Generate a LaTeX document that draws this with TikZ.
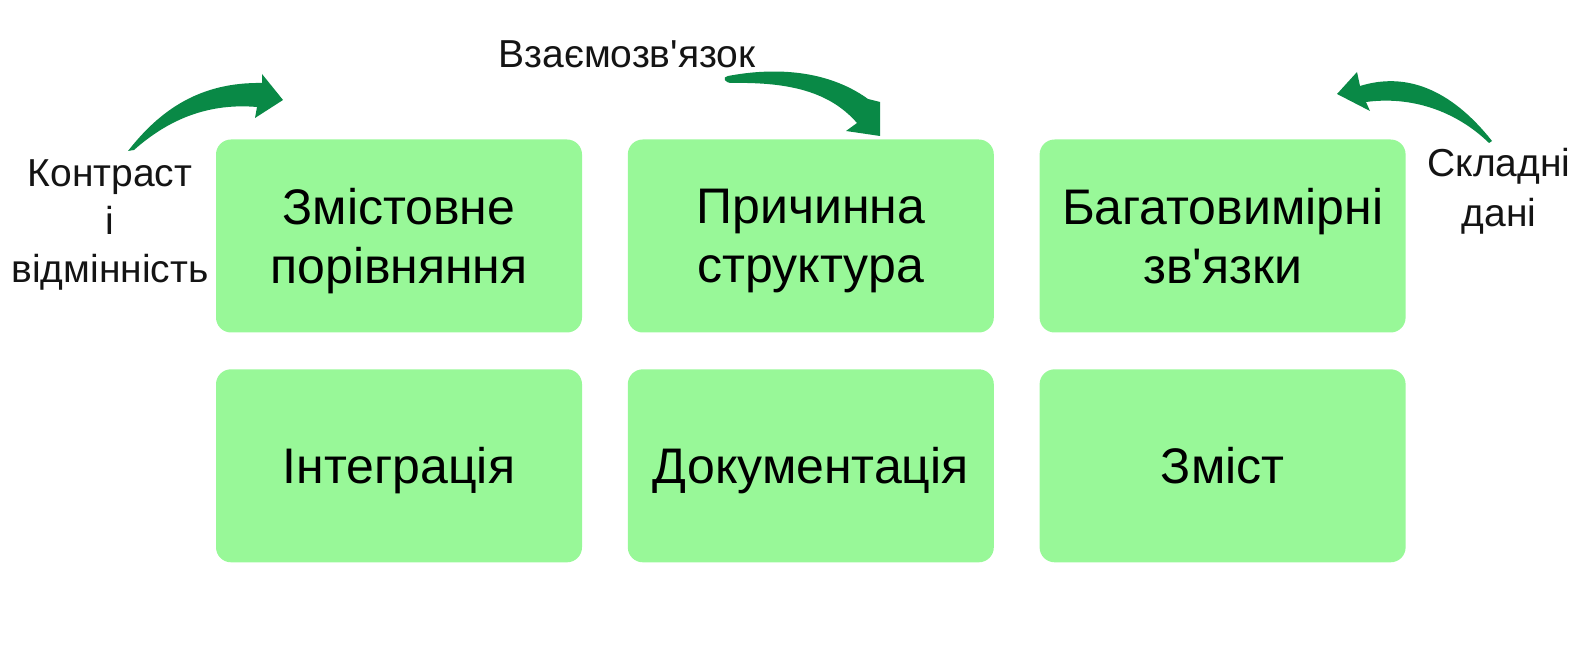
\documentclass[tikz,border=0pt]{standalone}
\usepackage{fontspec}
\setmainfont{Liberation Sans}[Ligatures=TeXOff]
\usetikzlibrary{positioning}
\definecolor{boxgreen}{RGB}{152,248,152}
\definecolor{arrowgreen}{RGB}{9,137,70}
\definecolor{labelgray}{RGB}{20,20,20}
\newcommand{\widthbox}{183pt}
\newcommand{\heightbox}{96.5pt}
\newcommand{\gapcol}{22.5pt}
\newcommand{\gaprow}{18pt}
\tikzset{
    box/.style={fill=boxgreen, rounded corners=7.5pt, minimum width=\widthbox, minimum height=\heightbox,
        align=center, inner sep=0pt, text depth=0pt, font=\fontsize{25}{29.5}\selectfont},
    side/.style={align=center, inner sep=0pt, text=labelgray, font=\fontsize{19.5}{24}\selectfont},
    curvearrow/.style={fill=arrowgreen, draw=none}
}
\begin{document}
\begin{tikzpicture}[x=0.5pt, y=-0.5pt]
    \useasboundingbox (0,0) rectangle (1588,672);

    % top row
    \node[box] (meaning) at (399,236) {Змістовне\\порівняння};
    \node[box, right=\gapcol of meaning] (cause) {Причинна\\структура};
    \node[box, right=\gapcol of cause] (multi) {Багатовимірні\\зв'язки};
    % bottom row
    \node[box, below=\gaprow of meaning] (integr) {Інтеграція};
    \node[box, below=\gaprow of cause] (docs) {Документація};
    \node[box, below=\gaprow of multi] (content) {Зміст};

    % side labels
    \node[side] (contrast) at (110,225) {Контраст\\і\\відмінність};
    \node[side] (relation) at (627,54) {Взаємозв'язок};
    \node[side, font=\fontsize{19.5}{25}\selectfont] (complex) at (1499,191) {Складні\\дані};

    % bent arrows
    \path[curvearrow] (128,151) .. controls (160,110) and (200,82) .. (262,83)
        -- (262,74) -- (283,100) -- (255,118) -- (257,107)
        .. controls (210,103) and (170,118) .. (134,150) -- cycle;
    \path[curvearrow] (728,76) .. controls (770,68) and (825,68) .. (868,99)
        -- (880,102) -- (880,136) -- (846,131) -- (857,123)
        .. controls (830,92) and (790,82) .. (732,83)
        .. controls (724,83) and (722,77) .. (728,76) -- cycle;
    \path[curvearrow] (1492,141) .. controls (1450,88) and (1405,72) .. (1360,86)
        -- (1357,72) -- (1337,94) -- (1370,111) -- (1366,102)
        .. controls (1410,96) and (1455,110) .. (1489,143) -- cycle;
\end{tikzpicture}
\end{document}
